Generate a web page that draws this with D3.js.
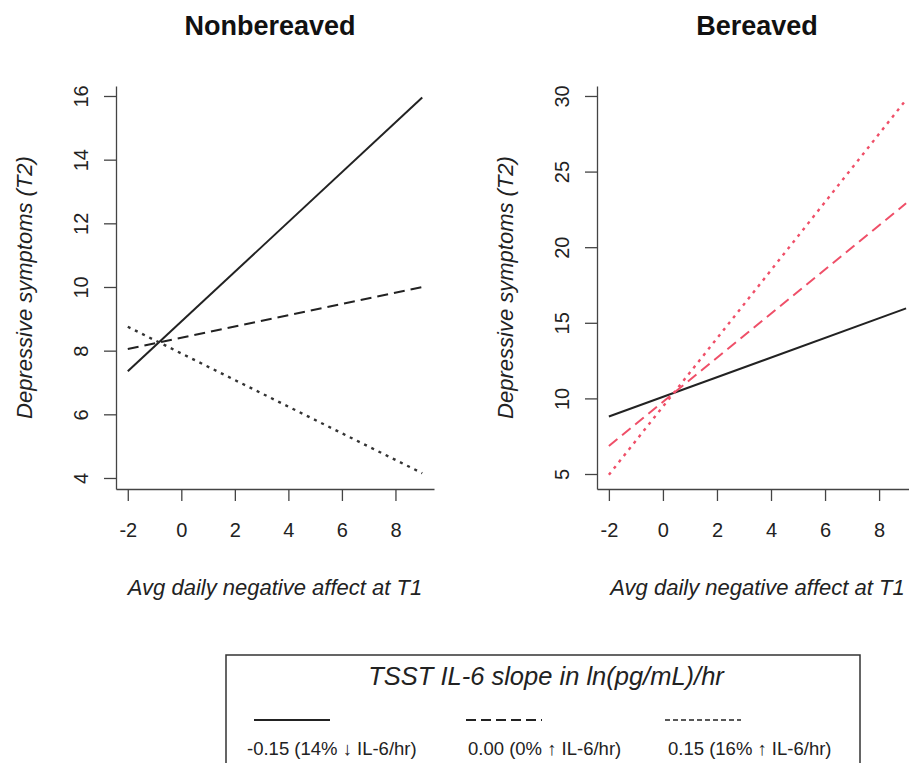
<!DOCTYPE html>
<html><head><meta charset="utf-8">
<script src="https://cdn.jsdelivr.net/npm/d3@7"></script>
<style>
body{margin:0;background:#fff;}
svg{font-family:"Liberation Sans",Arial,sans-serif;}
</style></head>
<body><svg id="chart" width="909" height="763"></svg>
<script>
// ---- data ----
const panels = ["Nonbereaved", "Bereaved"];
const seriesLabels = ["-0.15 (14% \u2193 IL-6/hr)", "0.00 (0% \u2191 IL-6/hr)", "0.15 (16% \u2191 IL-6/hr)"];
const xEnds = [-2, 9];
const nonbereavedStart = [7.35, 8.05, 8.75];
const nonbereavedEnd = [15.95, 10.0, 4.15];
const bereavedStart = [8.8, 6.85, 4.95];
const bereavedEnd = [15.95, 22.9, 29.75];
const xTicks = [-2, 0, 2, 4, 6, 8];
const leftYTicks = [4, 6, 8, 10, 12, 14, 16];
const rightYTicks = [5, 10, 15, 20, 25, 30];
const legendTitle = "TSST IL-6 slope in ln(pg/mL)/hr";
const xTitle = "Avg daily negative affect at T1";
const yTitle = "Depressive symptoms (T2)";

const svg = d3.select("#chart");
const red = "#ef4f68";
const dashes = [null, "11,6", "3,5"];
const fmt = d => String(d);

const configs = [
  {title: panels[0], x0: 116, x1: 434, yDom: [3.654, 16.314], ticks: leftYTicks,
   start: nonbereavedStart, end: nonbereavedEnd, colors: ["#222", "#222", "#333"], cx: 270},
  {title: panels[1], x0: 597, x1: 918, yDom: [4.008, 30.66], ticks: rightYTicks,
   start: bereavedStart, end: bereavedEnd, colors: ["#222", red, red], cx: 757}
];
const plotTop = 86, plotBottom = 489;

configs.forEach(cfg => {
  const x = d3.scaleLinear().domain([-2.44, 9.44]).range([cfg.x0, cfg.x1]);
  const y = d3.scaleLinear().domain(cfg.yDom).range([plotBottom, plotTop]);
  const g = svg.append("g");

  // lines
  cfg.start.forEach((s, i) => {
    const pts = [[xEnds[0], s], [xEnds[1], cfg.end[i]]];
    g.append("path")
      .attr("d", d3.line().x(d => x(d[0])).y(d => y(d[1]))(pts))
      .attr("fill", "none")
      .attr("stroke", cfg.colors[i])
      .attr("stroke-width", i === 2 ? 2.4 : 2)
      .attr("stroke-dasharray", dashes[i]);
  });

  // y axis
  const ya = g.append("g").attr("transform", `translate(${cfg.x0},0)`)
    .call(d3.axisLeft(y).tickValues(cfg.ticks).tickSize(12).tickSizeOuter(0).tickFormat(fmt));
  ya.select(".domain").attr("stroke", "#444").attr("stroke-width", 1.3);
  ya.selectAll(".tick line").attr("stroke", "#444").attr("stroke-width", 1.3);
  ya.selectAll(".tick text")
    .attr("x", null).attr("dy", null)
    .attr("transform", "translate(-28,0) rotate(-90)")
    .attr("text-anchor", "middle")
    .attr("font-size", 20).attr("fill", "#222");

  // x axis
  const xa = g.append("g").attr("transform", `translate(0,${plotBottom})`)
    .call(d3.axisBottom(x).tickValues(xTicks).tickSize(12).tickSizeOuter(0).tickFormat(fmt));
  xa.select(".domain").attr("stroke", "#444").attr("stroke-width", 1.3);
  xa.selectAll(".tick line").attr("stroke", "#444").attr("stroke-width", 1.3);
  xa.selectAll(".tick text").attr("y", 48).attr("dy", null)
    .attr("font-size", 20).attr("fill", "#222");

  // titles
  svg.append("text").attr("x", cfg.cx).attr("y", 35).attr("text-anchor", "middle")
    .attr("font-size", 27).attr("font-weight", "bold").attr("fill", "#111").text(cfg.title);
  svg.append("text").attr("x", (x(-2) + x(9)) / 2).attr("y", 595).attr("text-anchor", "middle")
    .attr("font-size", 22).attr("font-style", "italic").attr("fill", "#222").text(xTitle);
  svg.append("text").attr("transform", `translate(${cfg.x0 - 84},${(plotTop + plotBottom) / 2}) rotate(-90)`)
    .attr("text-anchor", "middle").attr("font-size", 22).attr("font-style", "italic")
    .attr("fill", "#222").text(yTitle);
});

// legend
const lg = svg.append("g");
lg.append("rect").attr("x", 226).attr("y", 655).attr("width", 634).attr("height", 130)
  .attr("fill", "none").attr("stroke", "#333").attr("stroke-width", 1.5);
lg.append("text").attr("x", 546).attr("y", 685).attr("text-anchor", "middle")
  .attr("font-size", 25.5).attr("font-style", "italic").attr("fill", "#222").text(legendTitle);
const legX = d3.scalePoint().domain(seriesLabels).range([254, 665]);
const legDash = [null, "10,5", "5,3"];
const legLineOff = [0, 6.5, 0];
const legTextOff = [-7, 2, 3];
seriesLabels.forEach((lab, i) => {
  const lx = legX(lab) + legLineOff[i];
  lg.append("line").attr("x1", lx).attr("x2", lx + 76).attr("y1", 720).attr("y2", 720)
    .attr("stroke", "#222").attr("stroke-width", i === 2 ? 1.5 : 2).attr("stroke-dasharray", legDash[i]);
  lg.append("text").attr("x", lx + legTextOff[i]).attr("y", 755)
    .attr("font-size", 18.5).attr("fill", "#222").text(lab);
});
</script></body></html>
